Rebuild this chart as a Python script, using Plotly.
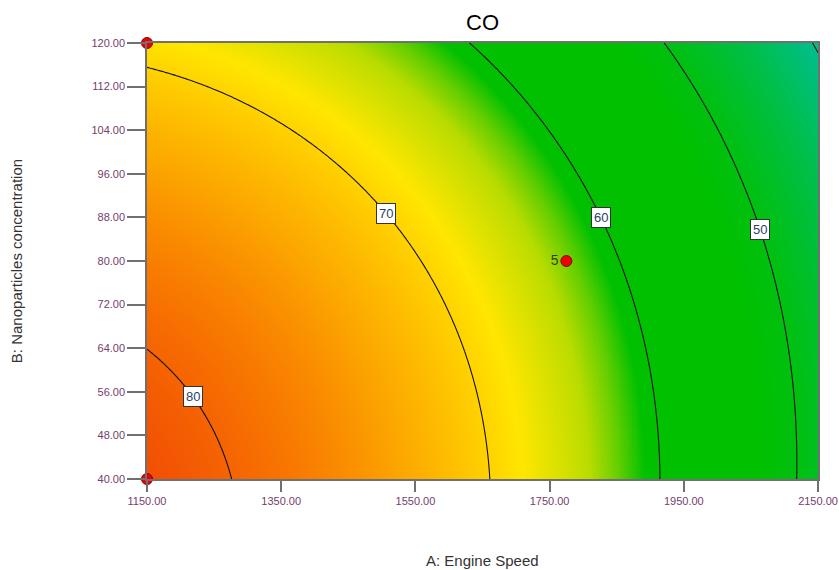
import numpy as np
import plotly.graph_objects as go

# Fitted quadratic response surface for CO, in coded factors
# xa = (A - 1650) / 500, xb = (B - 80) / 40
COEF_INTERCEPT = 67.3
COEF_A = -15.7
COEF_B = -5.46
COEF_AB = 1.12
COEF_A2 = -5.27
COEF_B2 = -2.39

A_RANGE = [1150.0, 2150.0]
B_RANGE = [40.0, 120.0]
X_TICKS = [1150, 1350, 1550, 1750, 1950, 2150]
Y_TICKS = [40, 48, 56, 64, 72, 80, 88, 96, 104, 112, 120]

CONTOUR_LEVELS = [40, 50, 60, 70, 80]
LABELLED_LEVELS = [80, 70, 60, 50]
LABEL_B = [55.2, 88.8, 87.9, 85.7]

# design points shown on the plot
POINT_A = [1150, 1150, 1775]
POINT_B = [120, 40, 80]
POINT_TEXT = ["", "", "5"]


def coded(a, b):
    return (np.asarray(a) - 1650.0) / 500.0, (np.asarray(b) - 80.0) / 40.0


def co_model(a, b):
    xa, xb = coded(a, b)
    return (COEF_INTERCEPT + COEF_A * xa + COEF_B * xb + COEF_AB * xa * xb
            + COEF_A2 * xa ** 2 + COEF_B2 * xb ** 2)


def a_on_level(level, b):
    """Engine speed where the surface equals `level` at concentration b."""
    _, xb = coded(0, b)
    qa = COEF_A2
    qb = COEF_A + COEF_AB * xb
    qc = COEF_INTERCEPT + COEF_B * xb + COEF_B2 * xb ** 2 - level
    roots = np.roots([qa, qb, qc])
    roots = [r.real for r in roots if abs(r.imag) < 1e-9 and -1.2 <= r.real <= 1.2]
    return 1650.0 + 500.0 * roots[0]


a_grid = np.linspace(A_RANGE[0], A_RANGE[1], 301)
b_grid = np.linspace(B_RANGE[0], B_RANGE[1], 241)
AA, BB = np.meshgrid(a_grid, b_grid)
Z = co_model(AA, BB)

ZMIN, ZMAX = 40.0, 82.0
stops = [
    (40.0, "rgb(0,190,140)"),
    (45.0, "rgb(0,191,70)"),
    (50.0, "rgb(0,192,15)"),
    (53.0, "rgb(0,192,0)"),
    (61.0, "rgb(0,192,0)"),
    (62.7, "rgb(100,206,0)"),
    (64.5, "rgb(185,220,0)"),
    (68.3, "rgb(255,230,0)"),
    (70.5, "rgb(255,205,0)"),
    (74.0, "rgb(252,168,0)"),
    (78.0, "rgb(248,122,0)"),
    (82.0, "rgb(242,78,4)"),
]
colorscale = [[(v - ZMIN) / (ZMAX - ZMIN), c] for v, c in stops]

fig = go.Figure()

fig.add_trace(go.Heatmap(
    x=a_grid, y=b_grid, z=Z,
    colorscale=colorscale, zmin=ZMIN, zmax=ZMAX,
    zsmooth="best", showscale=False, hoverinfo="skip",
))

fig.add_trace(go.Contour(
    x=a_grid, y=b_grid, z=Z,
    contours=dict(
        coloring="lines",
        start=min(CONTOUR_LEVELS),
        end=max(CONTOUR_LEVELS),
        size=CONTOUR_LEVELS[1] - CONTOUR_LEVELS[0],
        showlabels=False,
    ),
    line=dict(color="#111111", width=1.1),
    colorscale=[[0, "#111111"], [1, "#111111"]],
    showscale=False, hoverinfo="skip",
))

fig.add_trace(go.Scatter(
    x=POINT_A, y=POINT_B, mode="markers+text",
    text=POINT_TEXT, textposition="middle left",
    textfont=dict(family="Arial, Liberation Sans", size=14, color="#3a3a10"),
    marker=dict(color="#ee0000", size=11, line=dict(color="#8a0000", width=1)),
    cliponaxis=False, showlegend=False, hoverinfo="skip",
))

# boxed contour labels sitting on their lines
for level, b in zip(LABELLED_LEVELS, LABEL_B):
    fig.add_annotation(
        x=a_on_level(level, b), y=b, xref="x", yref="y",
        text=str(level), showarrow=False,
        font=dict(family="Arial, Liberation Sans", size=13, color="#2a3f66"),
        bgcolor="white", bordercolor="#333333", borderwidth=1, borderpad=2,
    )

fig.add_annotation(
    x=0.5, y=1.048, xref="paper", yref="paper", text="CO", showarrow=False,
    font=dict(family="Arial, Liberation Sans", size=22, color="black"),
    xanchor="center", yanchor="middle",
)
fig.add_annotation(
    x=0.5, y=-0.186, xref="paper", yref="paper", text="A: Engine Speed",
    showarrow=False, xanchor="center", yanchor="middle",
    font=dict(family="Arial, Liberation Sans", size=15, color="#333333"),
)
fig.add_annotation(
    x=-0.195, y=0.5, xref="paper", yref="paper",
    text="B: Nanoparticles concentration", textangle=-90,
    showarrow=False, xanchor="center", yanchor="middle",
    font=dict(family="Arial, Liberation Sans", size=15, color="#333333"),
)

tick_font = dict(family="Arial, Liberation Sans", size=11, color="#74406c")

fig.update_xaxes(
    range=A_RANGE, tickvals=X_TICKS, ticktext=[f"{v:.2f}" for v in X_TICKS],
    ticks="outside", ticklen=11, tickcolor="#707070", tickwidth=1.5,
    showline=True, linecolor="#707070", linewidth=1.5, mirror=True,
    showgrid=False, zeroline=False, tickfont=tick_font,
    ticklabeloverflow="allow", automargin=False,
)
fig.update_yaxes(
    range=B_RANGE, tickvals=Y_TICKS, ticktext=[f"{v:.2f}" for v in Y_TICKS],
    ticks="outside", ticklen=18, tickcolor="#707070", tickwidth=1.5,
    showline=True, linecolor="#707070", linewidth=1.5, mirror=True,
    showgrid=False, zeroline=False, tickfont=tick_font,
    automargin=False,
)

fig.update_layout(
    width=839, height=570,
    margin=dict(l=147, r=21, t=43, b=91),
    paper_bgcolor="white", plot_bgcolor="white",
    showlegend=False,
)

fig.write_html("out.html")
